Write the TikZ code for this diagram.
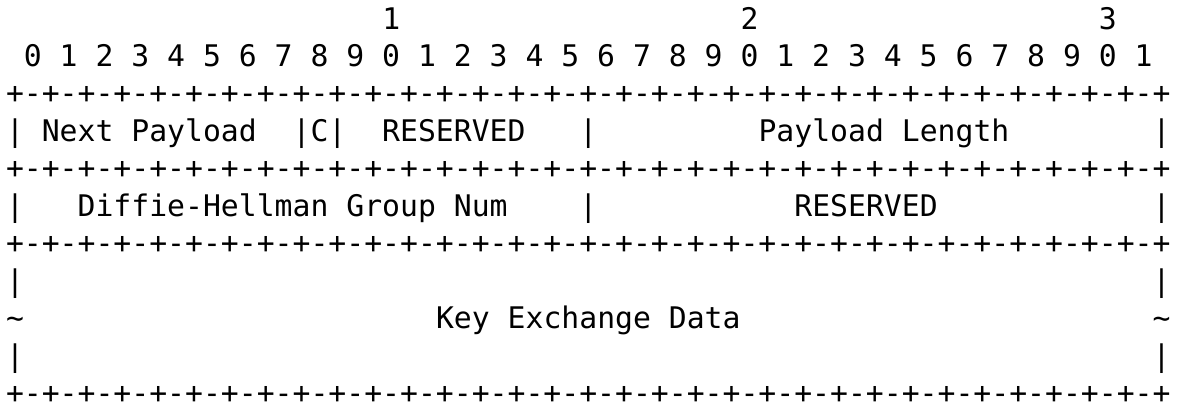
\documentclass[tikz,border=0pt]{standalone}
\usepackage{fontspec}
\setmonofont{DejaVu Sans Mono}
\newcommand\tld{\textasciitilde}
\begin{document}
\begin{tikzpicture}[x=1pt,y=1pt,
  asciiline/.style={anchor=base west, inner sep=0pt, outer sep=0pt,
    font=\ttfamily\fontsize{29.76}{37.5}\selectfont, text=black}]
\useasboundingbox (0,0) rectangle (1182,-407);
\def\bl#1{-29-37.45*#1}
\node[asciiline] (l0) at (6,{\bl{0}}) {\ \ \ \ \ \ \ \ \ \ \ \ \ \ \ \ \ \ \ \ \ 1\ \ \ \ \ \ \ \ \ \ \ \ \ \ \ \ \ \ \ 2\ \ \ \ \ \ \ \ \ \ \ \ \ \ \ \ \ \ \ 3};
\node[asciiline] (l1) at (6,{\bl{1}}) {\ 0\ 1\ 2\ 3\ 4\ 5\ 6\ 7\ 8\ 9\ 0\ 1\ 2\ 3\ 4\ 5\ 6\ 7\ 8\ 9\ 0\ 1\ 2\ 3\ 4\ 5\ 6\ 7\ 8\ 9\ 0\ 1};
\node[asciiline] (l2) at (6,{\bl{2}}) {+-+-+-+-+-+-+-+-+-+-+-+-+-+-+-+-+-+-+-+-+-+-+-+-+-+-+-+-+-+-+-+-+};
\node[asciiline] (l3) at (6,{\bl{3}}) {|\ Next\ Payload\ \ |C|\ \ RESERVED\ \ \ |\ \ \ \ \ \ \ \ \ Payload\ Length\ \ \ \ \ \ \ \ |};
\node[asciiline] (l4) at (6,{\bl{4}}) {+-+-+-+-+-+-+-+-+-+-+-+-+-+-+-+-+-+-+-+-+-+-+-+-+-+-+-+-+-+-+-+-+};
\node[asciiline] (l5) at (6,{\bl{5}}) {|\ \ \ Diffie-Hellman\ Group\ Num\ \ \ \ |\ \ \ \ \ \ \ \ \ \ \ RESERVED\ \ \ \ \ \ \ \ \ \ \ \ |};
\node[asciiline] (l6) at (6,{\bl{6}}) {+-+-+-+-+-+-+-+-+-+-+-+-+-+-+-+-+-+-+-+-+-+-+-+-+-+-+-+-+-+-+-+-+};
\node[asciiline] (l7) at (6,{\bl{7}}) {|\ \ \ \ \ \ \ \ \ \ \ \ \ \ \ \ \ \ \ \ \ \ \ \ \ \ \ \ \ \ \ \ \ \ \ \ \ \ \ \ \ \ \ \ \ \ \ \ \ \ \ \ \ \ \ \ \ \ \ \ \ \ \ |};
\node[asciiline] (l8) at (6,{\bl{8}}) {\tld\ \ \ \ \ \ \ \ \ \ \ \ \ \ \ \ \ \ \ \ \ \ \ Key\ Exchange\ Data\ \ \ \ \ \ \ \ \ \ \ \ \ \ \ \ \ \ \ \ \ \ \ \tld};
\node[asciiline] (l9) at (6,{\bl{9}}) {|\ \ \ \ \ \ \ \ \ \ \ \ \ \ \ \ \ \ \ \ \ \ \ \ \ \ \ \ \ \ \ \ \ \ \ \ \ \ \ \ \ \ \ \ \ \ \ \ \ \ \ \ \ \ \ \ \ \ \ \ \ \ \ |};
\node[asciiline] (l10) at (6,{\bl{10}}) {+-+-+-+-+-+-+-+-+-+-+-+-+-+-+-+-+-+-+-+-+-+-+-+-+-+-+-+-+-+-+-+-+};
\end{tikzpicture}
\end{document}
